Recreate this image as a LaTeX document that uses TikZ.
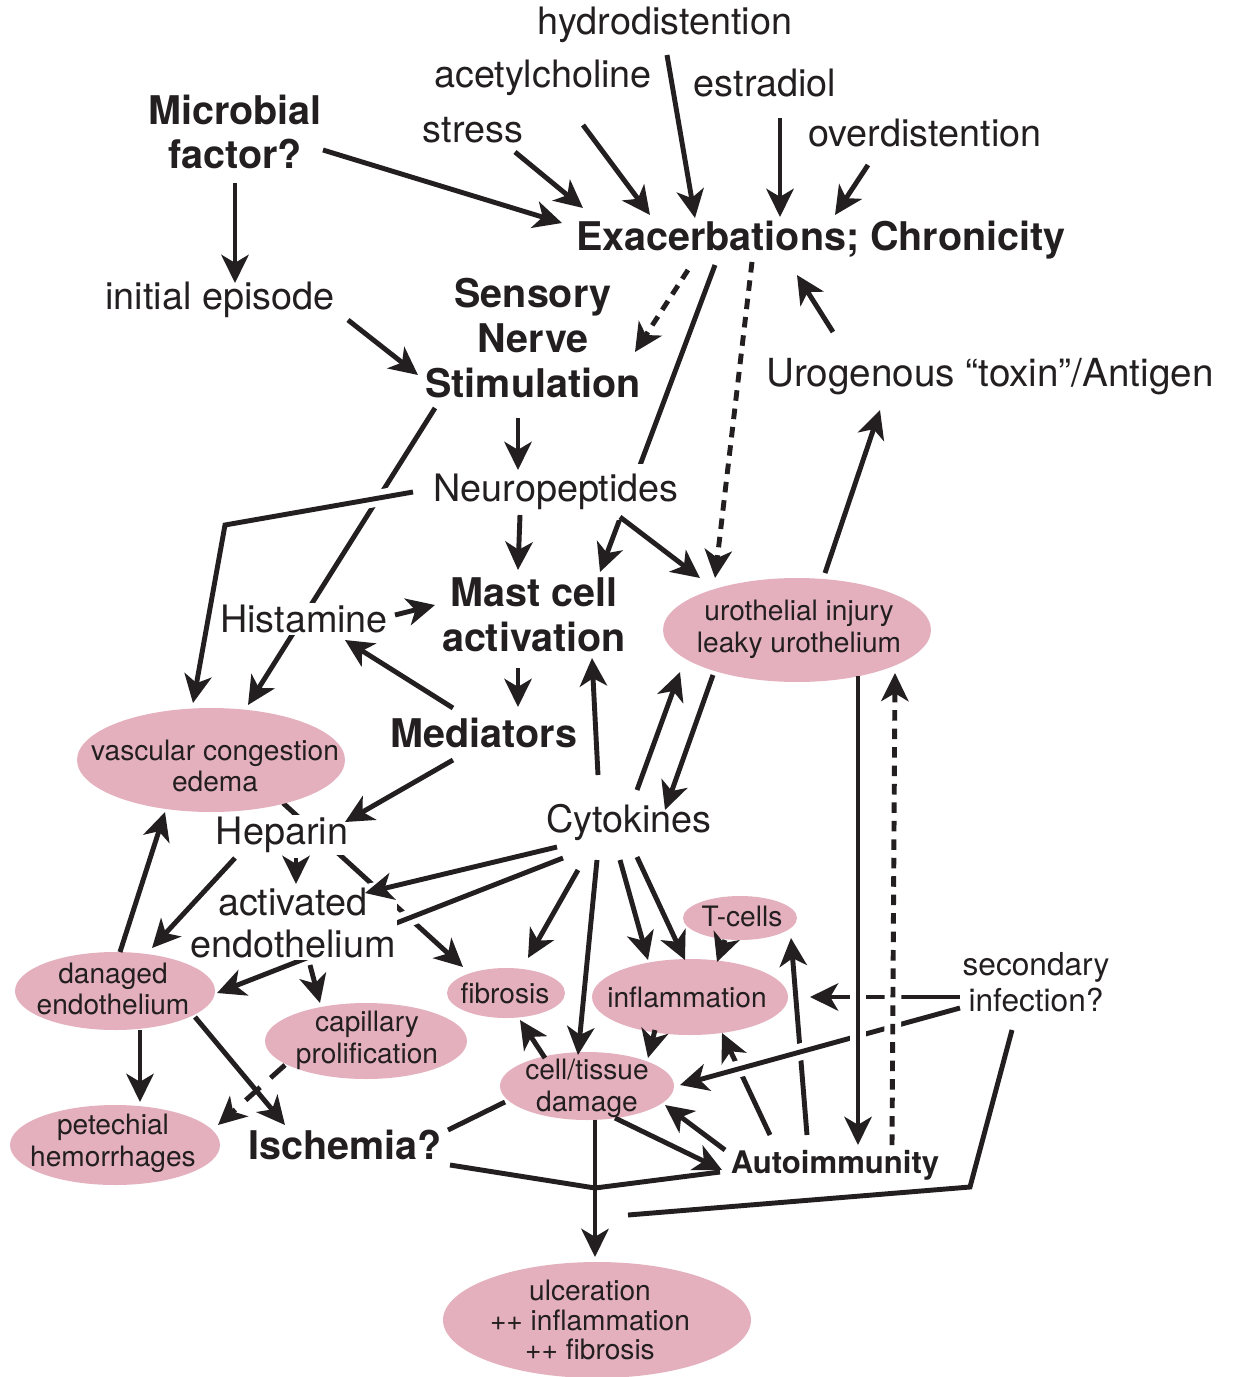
\documentclass[tikz,border=0pt]{standalone}
\usepackage{fontspec}
\setmainfont{TeX Gyre Heros}
\usetikzlibrary{arrows.meta,calc,shapes.geometric}
\definecolor{ink}{HTML}{231F20}
\definecolor{pinkfill}{RGB}{228,176,190}
\pgfdeclarelayer{bg}
\pgfdeclarelayer{mid}
\pgfsetlayers{bg,mid,main}
\begin{document}
\begin{tikzpicture}[x=0.02cm,y=-0.02cm,
  every node/.style={text=ink},
  lbl/.style={font=\fontsize{21.5}{24}\selectfont, inner sep=1pt, align=center},
  blbl/.style={font=\bfseries\fontsize{22.5}{25.5}\selectfont, inner sep=1pt, align=center},
  ell/.style={ellipse, fill=pinkfill, draw=none, inner sep=0pt},
  etxt/.style={font=\fontsize{16}{18}\selectfont, align=center, inner sep=0pt},
  con/.style={draw=ink, line width=2.8pt},
  arr/.style={con, -{Stealth[length=16pt,width=15.5pt,inset=4.5pt]}},
  dsh/.style={dash pattern=on 6pt off 4.5pt},
  ldsh/.style={dash pattern=on 11pt off 8pt},
  over/.style 2 args={preaction={draw=white,line width=9.5pt,-,solid,shorten <=#1,shorten >=#2}},
  wt/.style={fill=white}
]
\useasboundingbox (0,0) rectangle (1233,1377);

% ---------- nodes ----------
\node[lbl] (hyd) at (665,25) {hydrodistention};
\node[lbl] (ace) at (543,78) {acetylcholine};
\node[lbl] (est) at (765,83) {estradiol};
\node[lbl] (str) at (473,130) {stress};
\node[lbl] (ovd) at (925,133) {overdistention};
\node[blbl] (mic) at (235,132) {Microbial\\factor?};
\node[blbl] (ex) at (821,240) {Exacerbations; Chronicity};
\node[lbl] (ini) at (220,300) {initial episode};
\node[blbl] (sns) at (533,338) {Sensory\\Nerve\\Stimulation};
\node[lbl,font=\fontsize{22}{24}\selectfont] (uro) at (990,377) {Urogenous “toxin”/Antigen};
\node[lbl,wt,inner ysep=6pt] (neu) at (556,492) {Neuropeptides};
\node[lbl,wt] (his) at (304,619) {Histamine};
\node[blbl] (mast) at (534,615) {Mast cell\\activation};
\node[blbl] (med) at (484,733) {Mediators};
\node[lbl,wt] (hep) at (282,835) {Heparin};
\node[lbl] (cyt) at (629,822) {Cytokines};
\node[lbl,wt] (act) at (293,923) {activated\\endothelium};
\node[lbl,font=\fontsize{18}{20.5}\selectfont] (sec) at (1036,982) {secondary\\infection?};
\node[blbl] (isc) at (345,1145) {Ischemia?};
\node[blbl,font=\bfseries\fontsize{17.7}{20}\selectfont] (auto) at (835,1165) {Autoimmunity};

\node[ell,minimum width=5.36cm,minimum height=2.08cm] (ui) at (797,630) {};
\node[etxt] (uit) at (799,629) {urothelial injury\\leaky urothelium};
\node[ell,minimum width=5.36cm,minimum height=2.08cm] (vc) at (211,760) {};
\node[etxt] (vct) at (215,766) {vascular congestion\\edema};
\node[ell,minimum width=4.0cm,minimum height=1.56cm] (de) at (115,991) {};
\node[etxt] (det) at (113,989) {danaged\\endothelium};
\node[ell,minimum width=4.04cm,minimum height=1.52cm] (cp) at (366,1041) {};
\node[etxt] (cpt) at (367,1040) {capillary\\prolification};
\node[ell,minimum width=4.2cm,minimum height=1.6cm] (pet) at (115,1145) {};
\node[etxt] (pett) at (113,1143) {petechial\\hemorrhages};
\node[ell,minimum width=2.36cm,minimum height=1.0cm] (fib) at (506,993) {};
\node[etxt] (fibt) at (505,993) {fibrosis};
\node[ell,minimum width=2.28cm,minimum height=0.88cm] (tc) at (740,918) {};
\node[etxt] (tct) at (742,916) {T-cells};
\node[ell,minimum width=3.92cm,minimum height=1.52cm] (inf) at (690,997) {};
\node[etxt] (inft) at (687,997) {inflammation};
\node[ell,minimum width=3.48cm,minimum height=1.36cm] (ctd) at (587,1086) {};
\node[etxt] (ctdt) at (587,1088) {cell/tissue\\damage};
\node[ell,minimum width=6.16cm,minimum height=2.32cm] (ulc) at (597,1320) {};
\node[etxt,font=\fontsize{16}{17}\selectfont] (ulct) at (590,1320) {ulceration\\++ inflammation\\++ fibrosis};

% ---------- lines passing underneath ----------
\begin{pgfonlayer}{bg}
\fill[white] (0,0) rectangle (1233,1377);
\draw[arr] ($(ex)+(-106,25)$) -- ($(mast)+(66,-43)$);
\draw[arr] ($(sns)+(-98,70)$) -- ($(vc)+(37,-55)$);
\draw[arr] ($(vc)+(72,43)$) -- ($(fib)+(-43,-26)$);
\draw[arr] ($(auto)+(-65,-30)$) -- ($(inf)+(32,36)$);
\draw[arr] ($(auto)+(-28,-30)$) -- ($(tc)+(51,20)$);
\end{pgfonlayer}

\begin{pgfonlayer}{mid}
\draw[arr,over={10pt}{10pt}] ($(neu)+(-143,0)$) -- ($(neu)+(-331,33)$) -- ($(vc)+(-18,-57)$);
\draw[arr,over={10pt}{10pt}] ($(cyt)+(-66,36)$) -- ($(de)+(102,2)$);
\draw[arr,over={10pt}{10pt}] ($(sec)+(-76,15)$) -- ($(inf)+(120,0)$);
\draw[arr,over={10pt}{10pt}] ($(sec)+(-76,26)$) -- ($(ctd)+(93,-1)$);
\end{pgfonlayer}

% ---------- main connectors ----------
\draw[arr] ($(hyd)+(2,30)$) -- ($(ex)+(-126,-22)$);
\draw[arr] ($(ace)+(40,47)$) -- ($(ex)+(-171,-25)$);
\draw[arr] ($(est)+(15,35)$) -- ($(ex)+(-41,-23)$);
\draw[arr] ($(str)+(42,22)$) -- ($(ex)+(-238,-32)$);
\draw[arr] ($(ovd)+(-57,32)$) -- ($(ex)+(14,-25)$);
\draw[arr] ($(mic)+(88,18)$) -- ($(ex)+(-259,-17)$);
\draw[arr] ($(mic)+(0,51)$) -- ($(ini)+(15,-17)$);
\draw[arr] ($(ini)+(128,20)$) -- ($(sns)+(-115,37)$);
\draw[arr,dsh] ($(ex)+(-133,30)$) -- ($(sns)+(102,14)$);
\draw[arr,dsh] ($(ex)+(-69,22)$) -- ($(ui)+(-82,-52)$);
\draw[arr] ($(uro)+(-157,-45)$) -- ($(ex)+(-24,35)$);
\draw[arr] ($(ui)+(28,-57)$) -- ($(uro)+(-110,33)$);
\draw[arr] ($(sns)+(-15,80)$) -- ($(neu)+(-38,-22)$);
\draw[arr] ($(neu)+(-36,23)$) -- ($(mast)+(-16,-45)$);
\draw[arr] ($(neu)+(64,25)$) -- ($(ui)+(-97,-52)$);
\draw[arr] ($(his)+(91,-4)$) -- ($(mast)+(-99,-10)$);
\draw[arr] ($(med)+(-31,-25)$) -- ($(his)+(41,21)$);
\draw[arr] ($(mast)+(-16,53)$) -- ($(med)+(34,-26)$);
\draw[arr] ($(cyt)+(-31,-47)$) -- ($(mast)+(58,43)$);
\draw[arr] ($(cyt)+(8,-32)$) -- ($(ui)+(-117,42)$);
\draw[arr] ($(ui)+(-84,45)$) -- ($(cyt)+(36,-12)$);
\draw[arr] ($(med)+(-31,27)$) -- ($(hep)+(63,-13)$);
\draw[arr] ($(hep)+(14,23)$) -- ($(act)+(3,-39)$);
\draw[arr,over={28pt}{3pt}] ($(cyt)+(-72,25)$) -- ($(act)+(72,-30)$);
\draw[arr] ($(act)+(17,42)$) -- ($(cp)+(-46,-38)$);
\draw[arr] ($(hep)+(-47,23)$) -- ($(de)+(37,-43)$);
\draw[arr] ($(de)+(5,-39)$) -- ($(vc)+(-46,52)$);
\draw[arr] ($(de)+(25,39)$) -- ($(pet)+(25,-43)$);
\draw[arr] ($(de)+(80,26)$) -- ($(isc)+(-60,-20)$);
\draw[arr,ldsh] ($(cp)+(-81,24)$) -- ($(pet)+(103,-20)$);
\draw[con] ($(isc)+(103,-15)$) -- ($(ctd)+(-82,16)$);
\draw[arr] ($(cyt)+(-51,48)$) -- ($(fib)+(22,-35)$);
\draw[arr] ($(cyt)+(-32,38)$) -- ($(ctd)+(-9,-31)$);
\draw[arr] ($(cyt)+(-9,38)$) -- ($(inf)+(-42,-37)$);
\draw[arr] ($(cyt)+(8,35)$) -- ($(inf)+(-5,-37)$);
\draw[arr] ($(tc)+(-15,22)$) -- ($(inf)+(27,-35)$);
\draw[arr] ($(inf)+(-35,33)$) -- ($(ctd)+(61,-28)$);
\draw[arr] ($(ctd)+(-42,-28)$) -- ($(fib)+(14,27)$);
\draw[arr] ($(auto)+(-110,-15)$) -- ($(ctd)+(78,19)$);
\draw[arr] ($(ctd)+(28,32)$) -- ($(auto)+(-113,5)$);
\draw[arr,over={10pt}{10pt}] ($(ui)+(61,46)$) -- ($(auto)+(23,-20)$);
\draw[arr,dsh,over={10pt}{10pt}] ($(auto)+(57,-20)$) -- ($(ui)+(98,43)$);
\coordinate (J) at ($(ctd)+(8,102)$);
\draw[arr] ($(ctd)+(8,34)$) -- ($(ulc)+(-2,-63)$);
\draw[con] ($(isc)+(105,20)$) -- (J);
\draw[con] ($(auto)+(-115,7)$) -- (J);
\draw[con] ($(sec)+(-24,48)$) -- ++(-42,157) -- ++(-342,28);
\end{tikzpicture}
\end{document}
